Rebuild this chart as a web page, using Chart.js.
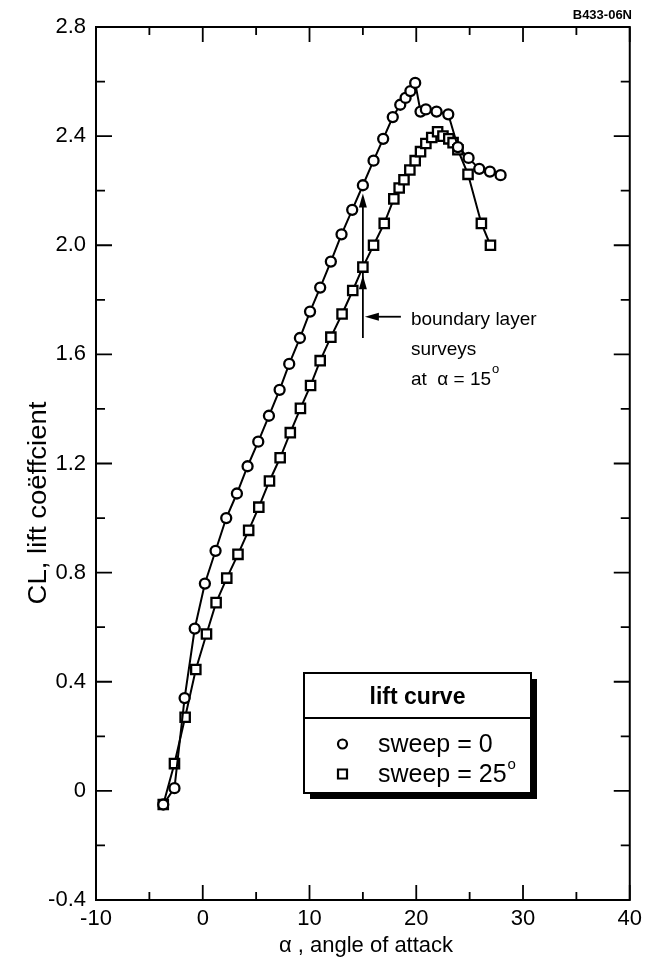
<!DOCTYPE html>
<html>
<head>
<meta charset="utf-8">
<title>lift curve</title>
<script src="https://cdn.jsdelivr.net/npm/chart.js@4.4.0/dist/chart.umd.min.js"></script>
<style>
  html, body { margin: 0; padding: 0; background: #fff; }
  #wrap { width: 648px; height: 960px; }
</style>
</head>
<body>
<div id="wrap"><canvas id="liftChart" width="648" height="960"></canvas></div>
<script>
// ---------- data ----------
const alphaSweep0 = [-3.7, -2.65, -1.7, -0.75, 0.2, 1.2, 2.2, 3.2, 4.2, 5.2, 6.2, 7.2, 8.1, 9.1, 10.05,
  11.0, 12.0, 13.0, 14.0, 15.0, 16.0, 16.9, 17.8, 18.5, 19.0, 19.45, 19.9, 20.4, 20.9, 21.9, 23.0,
  23.9, 24.9, 25.9, 26.9, 27.9];
const clSweep0 = [-0.05, 0.01, 0.34, 0.595, 0.76, 0.88, 1.0, 1.09, 1.19, 1.28, 1.375, 1.47, 1.565, 1.66, 1.757,
  1.845, 1.94, 2.04, 2.13, 2.22, 2.31, 2.39, 2.47, 2.515, 2.54, 2.565, 2.595, 2.49, 2.498, 2.49, 2.48,
  2.36, 2.32, 2.28, 2.27, 2.257];

const alphaSweep25 = [-3.7, -2.65, -1.65, -0.65, 0.35, 1.25, 2.25, 3.3, 4.3, 5.25, 6.25, 7.25, 8.2, 9.15, 10.1,
  11.0, 12.0, 13.05, 14.05, 15.0, 16.0, 17.0, 17.9, 18.4, 18.85, 19.4, 19.9, 20.4, 20.9, 21.45, 22.0,
  22.5, 23.05, 23.45, 23.9, 24.85, 26.1, 26.95];
const clSweep25 = [-0.05, 0.10, 0.27, 0.445, 0.575, 0.69, 0.78, 0.867, 0.955, 1.04, 1.136, 1.221, 1.313, 1.402, 1.486,
  1.577, 1.663, 1.748, 1.834, 1.92, 2.0, 2.08, 2.17, 2.21, 2.24, 2.276, 2.31, 2.343, 2.373, 2.395, 2.416,
  2.40, 2.39, 2.376, 2.35, 2.26, 2.08, 2.0];

const xTickValues = [-10, 0, 10, 20, 30, 40];
const xMinorTicks = [-5, 5, 15, 25, 35];
const yTickValues = [-0.4, 0, 0.4, 0.8, 1.2, 1.6, 2.0, 2.4, 2.8];
const yMinorTicks = [-0.2, 0.2, 0.6, 1.0, 1.4, 1.8, 2.2, 2.6];

// boundary layer survey marker: alpha and the CL span of the arrow
const surveyAlpha = 15;
const surveyArrowFrom = 1.66;
const surveyArrowTo = [2.19, 1.89];
const surveyPointerCL = 1.738;

const FONT = '"Liberation Sans", Arial, Helvetica, sans-serif';

function toPoints(xs, ys) {
  return xs.map((x, i) => ({ x: x, y: ys[i] }));
}

// ---------- helpers ----------
function arrowHead(ctx, tipX, tipY, dirX, dirY) {
  const len = 14, half = 4;
  const bx = tipX - dirX * len, by = tipY - dirY * len;
  ctx.beginPath();
  ctx.moveTo(tipX, tipY);
  ctx.lineTo(bx - dirY * half, by + dirX * half);
  ctx.lineTo(bx + dirY * half, by - dirX * half);
  ctx.closePath();
  ctx.fill();
}

// frame, inward ticks and axis titles
const framePlugin = {
  id: 'frame',
  afterDraw(chart) {
    const { ctx, chartArea: a, scales: { x, y } } = chart;
    ctx.save();
    ctx.strokeStyle = '#000';
    ctx.lineWidth = 2;
    ctx.strokeRect(a.left, a.top, a.right - a.left, a.bottom - a.top);

    ctx.lineWidth = 1.8;
    ctx.beginPath();
    const xt = (v, len) => {
      const px = x.getPixelForValue(v);
      ctx.moveTo(px, a.bottom); ctx.lineTo(px, a.bottom - len);
      ctx.moveTo(px, a.top); ctx.lineTo(px, a.top + len);
    };
    const yt = (v, len) => {
      const py = y.getPixelForValue(v);
      ctx.moveTo(a.left, py); ctx.lineTo(a.left + len, py);
      ctx.moveTo(a.right, py); ctx.lineTo(a.right - len, py);
    };
    xTickValues.forEach(v => xt(v, 15));
    xMinorTicks.forEach(v => xt(v, 8));
    yTickValues.forEach(v => yt(v, 16));
    yMinorTicks.forEach(v => yt(v, 9));
    ctx.stroke();

    ctx.fillStyle = '#000';
    ctx.font = '22px ' + FONT;
    ctx.textAlign = 'center';
    ctx.textBaseline = 'alphabetic';
    ctx.fillText('\u03b1 , angle of attack', 366, 952);

    // y title, slightly stretched along its run
    ctx.save();
    ctx.translate(46, 503);
    ctx.rotate(-Math.PI / 2);
    ctx.scale(1.1, 1);
    ctx.font = '25px ' + FONT;
    ctx.fillText('CL, lift co\u00ebffcient', 0, 0);
    ctx.restore();

    ctx.font = 'bold 13px ' + FONT;
    ctx.textAlign = 'right';
    ctx.fillText('B433-06N', 632, 19);
    ctx.restore();
  }
};

// survey arrows, drawn under the markers
const surveyPlugin = {
  id: 'survey',
  beforeDatasetsDraw(chart) {
    const { ctx, scales: { x, y } } = chart;
    const px = x.getPixelForValue(surveyAlpha);
    ctx.save();
    ctx.strokeStyle = '#000';
    ctx.fillStyle = '#000';
    ctx.lineWidth = 1.8;
    ctx.beginPath();
    ctx.moveTo(px, y.getPixelForValue(surveyArrowFrom));
    ctx.lineTo(px, y.getPixelForValue(surveyArrowTo[0]) + 4);
    ctx.stroke();
    surveyArrowTo.forEach(v => arrowHead(ctx, px, y.getPixelForValue(v), 0, -1));

    const py = y.getPixelForValue(surveyPointerCL);
    const tipX = px + 2;
    const endX = tipX + 36;
    ctx.beginPath();
    ctx.moveTo(endX, py);
    ctx.lineTo(tipX + 6, py);
    ctx.stroke();
    arrowHead(ctx, tipX, py, -1, 0);

    ctx.font = '19px ' + FONT;
    ctx.textAlign = 'left';
    ctx.textBaseline = 'alphabetic';
    const tx = endX + 10;
    ctx.fillText('boundary layer', tx, py + 8);
    ctx.fillText('surveys', tx, py + 38);
    ctx.fillText('at  \u03b1 = 15', tx, py + 68);
    const w = ctx.measureText('at  \u03b1 = 15').width;
    ctx.font = '13px ' + FONT;
    ctx.fillText('o', tx + w + 1, py + 56);
    ctx.restore();
  }
};

// boxed legend with drop shadow
const legendBoxPlugin = {
  id: 'legendBox',
  afterDraw(chart) {
    const { ctx, chartArea: a } = chart;
    const bx = a.left + 208, by = a.top + 646, bw = 227, bh = 120;
    ctx.save();
    ctx.fillStyle = '#000';
    ctx.fillRect(bx + 6, by + 6, bw, bh);
    ctx.fillStyle = '#fff';
    ctx.fillRect(bx, by, bw, bh);
    ctx.strokeStyle = '#000';
    ctx.lineWidth = 2;
    ctx.strokeRect(bx, by, bw, bh);
    ctx.beginPath();
    ctx.moveTo(bx, by + 45);
    ctx.lineTo(bx + bw, by + 45);
    ctx.stroke();

    ctx.fillStyle = '#000';
    ctx.font = 'bold 23px ' + FONT;
    ctx.textAlign = 'center';
    ctx.fillText('lift curve', bx + bw / 2, by + 31);

    chart.data.datasets.forEach((ds, i) => {
      const cy = by + 71 + i * 30;
      ctx.lineWidth = 2.2;
      ctx.strokeStyle = '#000';
      ctx.fillStyle = '#fff';
      ctx.beginPath();
      if (ds.pointStyle === 'rect') {
        ctx.rect(bx + 34, cy - 4.5, 9, 9);
      } else {
        ctx.arc(bx + 38.5, cy, 4.5, 0, Math.PI * 2);
      }
      ctx.fill();
      ctx.stroke();
      ctx.fillStyle = '#000';
      ctx.font = '25px ' + FONT;
      ctx.textAlign = 'left';
      ctx.fillText(ds.label, bx + 74, cy + 8);
      if (ds.labelSup) {
        const w = ctx.measureText(ds.label).width;
        ctx.font = '15px ' + FONT;
        ctx.fillText(ds.labelSup, bx + 74 + w + 1, cy - 5);
      }
    });
    ctx.restore();
  }
};

// ---------- chart ----------
const ctx = document.getElementById('liftChart').getContext('2d');
new Chart(ctx, {
  type: 'scatter',
  data: {
    datasets: [{
      label: 'sweep = 0',
      data: toPoints(alphaSweep0, clSweep0),
      showLine: true,
      borderColor: '#000',
      borderWidth: 2,
      pointStyle: 'circle',
      pointRadius: 5,
      pointBorderWidth: 2.3,
      pointBackgroundColor: '#fff',
      pointBorderColor: '#000'
    }, {
      label: 'sweep = 25',
      labelSup: 'o',
      data: toPoints(alphaSweep25, clSweep25),
      showLine: true,
      borderColor: '#000',
      borderWidth: 2,
      pointStyle: 'rect',
      pointRadius: 6.6,
      pointBorderWidth: 2.3,
      pointBackgroundColor: '#fff',
      pointBorderColor: '#000'
    }]
  },
  options: {
    responsive: false,
    animation: false,
    devicePixelRatio: 1,
    layout: { padding: { top: 27, right: 13, left: 0, bottom: 0 } },
    plugins: {
      legend: { display: false },
      tooltip: { enabled: false }
    },
    scales: {
      x: {
        type: 'linear',
        min: -10,
        max: 40,
        afterBuildTicks: s => { s.ticks = xTickValues.map(v => ({ value: v })); },
        afterFit: s => { s.height = 60; },
        grid: { display: false, drawTicks: false },
        border: { display: false },
        ticks: {
          color: '#000',
          padding: 6,
          maxRotation: 0,
          font: { family: FONT, size: 22 },
          callback: v => String(v)
        }
      },
      y: {
        type: 'linear',
        min: -0.4,
        max: 2.8,
        afterBuildTicks: s => { s.ticks = yTickValues.map(v => ({ value: v })); },
        afterFit: s => { s.width = 96; },
        grid: { display: false, drawTicks: false },
        border: { display: false },
        ticks: {
          color: '#000',
          padding: 10,
          font: { family: FONT, size: 22 },
          callback: v => (v === 0 ? '0' : v.toFixed(1))
        }
      }
    }
  },
  plugins: [surveyPlugin, framePlugin, legendBoxPlugin]
});
</script>
</body>
</html>
